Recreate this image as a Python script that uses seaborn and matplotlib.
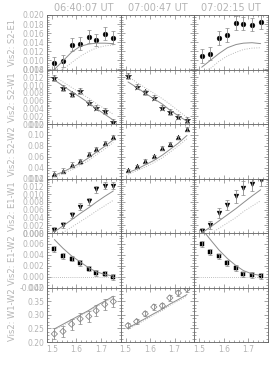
import numpy as np
import matplotlib
matplotlib.use("Agg")
import matplotlib.pyplot as plt
import seaborn as sns
from matplotlib.ticker import MultipleLocator, AutoMinorLocator, FormatStrFormatter

# spectral channels (micron)
wavelength = [1.51, 1.545, 1.58, 1.615, 1.65, 1.68, 1.715, 1.75]
times = ["06:40:07 UT", "07:00:47 UT", "07:02:15 UT"]
baselines = ["S2-E1", "S2-W1", "S2-W2", "E1-W1", "E1-W2", "W1-W2"]

# S2-E1
s2e1_vis_a = [0.0094, 0.0099, 0.0135, 0.0137, 0.0152, 0.0145, 0.0159, 0.0150]
s2e1_err_a = [0.0014] * 8
s2e1_mod_a = [0.0080, 0.0099, 0.0118, 0.0131, 0.0136, 0.0138, 0.0138, 0.0137]
s2e1_alt_a = [0.0072, 0.0080, 0.0095, 0.0109, 0.0120, 0.0127, 0.0132, 0.0134]
s2e1_vis_c = [0.0110, 0.0115, 0.0150, 0.0156, 0.0183, 0.0181, 0.0179, 0.0185]
s2e1_err_c = [0.0015] * 8
s2e1_mod_c = [0.0085, 0.0100, 0.0115, 0.0128, 0.0135, 0.0138, 0.0139, 0.0137]
s2e1_alt_c = [0.0075, 0.0082, 0.0098, 0.0110, 0.0118, 0.0124, 0.0127, 0.0128]

# S2-W1
s2w1_vis_a = [0.0118, 0.0093, 0.0076, 0.0085, 0.0055, 0.0042, 0.0033, 0.0006]
s2w1_err_a = [0.0007] * 8
s2w1_mod_a = [0.0113, 0.0098, 0.0083, 0.0069, 0.0054, 0.0040, 0.0025, 0.0010]
s2w1_alt_a = [0.0122, 0.0108, 0.0094, 0.0080, 0.0066, 0.0053, 0.0039, 0.0025]
s2w1_vis_b = [0.0123, 0.0096, 0.0081, 0.0068, 0.0042, 0.0031, 0.0019, 0.0010]
s2w1_err_b = [0.0007] * 8
s2w1_mod_b = [0.0108, 0.0094, 0.0079, 0.0065, 0.0051, 0.0036, 0.0021, 0.0007]
s2w1_alt_b = [0.0122, 0.0107, 0.0093, 0.0079, 0.0065, 0.0051, 0.0034, 0.0017]

# S2-W2
s2w2_vis_a = [0.029, 0.0345, 0.0455, 0.0515, 0.065, 0.074, 0.0855, 0.0964]
s2w2_err_a = [0.004] * 8
s2w2_mod_a = [0.026, 0.032, 0.040, 0.048, 0.058, 0.068, 0.079, 0.091]
s2w2_alt_a = [0.023, 0.029, 0.036, 0.044, 0.053, 0.063, 0.074, 0.086]
s2w2_vis_b = [0.035, 0.0424, 0.052, 0.0605, 0.0758, 0.0836, 0.0958, 0.111]
s2w2_err_b = [0.003] * 8
s2w2_mod_b = [0.031, 0.037, 0.045, 0.053, 0.063, 0.073, 0.085, 0.099]
s2w2_alt_b = [0.028, 0.034, 0.041, 0.049, 0.058, 0.068, 0.080, 0.093]

# E1-W1
e1w1_vis_a = [0.0008, 0.0020, 0.0046, 0.0068, 0.0081, 0.0112, 0.0122, 0.0122]
e1w1_err_a = [0.0008] * 8
e1w1_mod_a = [0.0003, 0.0018, 0.0034, 0.0050, 0.0065, 0.0079, 0.0094, 0.0108]
e1w1_alt_a = [-0.0012, 0.0001, 0.0015, 0.0029, 0.0043, 0.0056, 0.0070, 0.0084]
e1w1_vis_c = [0.0005, 0.0021, 0.0051, 0.0072, 0.0094, 0.0116, 0.0127, 0.0137]
e1w1_err_c = [0.0008, 0.0010, 0.0012, 0.0014, 0.0016, 0.0018, 0.0018, 0.0016]
e1w1_mod_c = [0.0000, 0.0015, 0.0031, 0.0047, 0.0063, 0.0078, 0.0095, 0.0111]
e1w1_alt_c = [-0.0015, -0.0002, 0.0012, 0.0026, 0.0040, 0.0055, 0.0069, 0.0083]

# E1-W2
e1w2_vis_a = [0.0051, 0.0038, 0.0033, 0.0025, 0.00145, 0.0007, 0.00055, -0.00005]
e1w2_err_a = [0.0005] * 8
e1w2_mod_a = [0.0068, 0.0052, 0.0038, 0.0027, 0.0016, 0.0009, 0.0004, 0.0001]
e1w2_vis_c = [0.0060, 0.0045, 0.0037, 0.0025, 0.0016, 0.0004, 0.0003, 0.0001]
e1w2_err_c = [0.0005] * 8
e1w2_mod_c = [0.0088, 0.0068, 0.0049, 0.0033, 0.0020, 0.0011, 0.0005, 0.0002]

# W1-W2
w1w2_vis_a = [0.2296, 0.239, 0.2656, 0.285, 0.294, 0.315, 0.338, 0.3485]
w1w2_err_a = [0.02] * 8
w1w2_mod_a = [0.248, 0.265, 0.282, 0.299, 0.316, 0.333, 0.350, 0.368]
w1w2_alt_a = [0.244, 0.261, 0.278, 0.295, 0.312, 0.329, 0.346, 0.364]
w1w2_vis_b = [0.2604, 0.275, 0.3037, 0.3285, 0.333, 0.3618, 0.380, 0.395]
w1w2_err_b = [0.01] * 8
w1w2_mod_b = [0.251, 0.269, 0.286, 0.304, 0.321, 0.339, 0.356, 0.374]
w1w2_alt_b = [0.246, 0.264, 0.281, 0.299, 0.316, 0.334, 0.351, 0.369]

ylims = [(0.008, 0.020), (0.0, 0.014), (0.02, 0.12), (0.0, 0.014), (-0.002, 0.008), (0.20, 0.40)]
ysteps = [0.002, 0.002, 0.02, 0.002, 0.002, 0.05]
yfmts = ["%.3f", "%.3f", "%.2f", "%.3f", "%.3f", "%.2f"]
markers = ["o", "*", "^", "v", "s", "D"]

# (row, col) -> (vis, err, solid model, dotted model)
panels = {
    (0, 0): (s2e1_vis_a, s2e1_err_a, s2e1_mod_a, s2e1_alt_a),
    (0, 2): (s2e1_vis_c, s2e1_err_c, s2e1_mod_c, s2e1_alt_c),
    (1, 0): (s2w1_vis_a, s2w1_err_a, s2w1_mod_a, s2w1_alt_a),
    (1, 1): (s2w1_vis_b, s2w1_err_b, s2w1_mod_b, s2w1_alt_b),
    (2, 0): (s2w2_vis_a, s2w2_err_a, s2w2_mod_a, s2w2_alt_a),
    (2, 1): (s2w2_vis_b, s2w2_err_b, s2w2_mod_b, s2w2_alt_b),
    (3, 0): (e1w1_vis_a, e1w1_err_a, e1w1_mod_a, e1w1_alt_a),
    (3, 2): (e1w1_vis_c, e1w1_err_c, e1w1_mod_c, e1w1_alt_c),
    (4, 0): (e1w2_vis_a, e1w2_err_a, e1w2_mod_a, None),
    (4, 2): (e1w2_vis_c, e1w2_err_c, e1w2_mod_c, None),
    (5, 0): (w1w2_vis_a, w1w2_err_a, w1w2_mod_a, w1w2_alt_a),
    (5, 1): (w1w2_vis_b, w1w2_err_b, w1w2_mod_b, w1w2_alt_b),
}

sns.set_theme(style="ticks")
plt.rcParams['font.family'] = ['DejaVu Sans']
txt = "#b4b4b4"
frame = "#606060"

fig, axs = plt.subplots(6, 3, figsize=(2.69, 3.66), dpi=100, sharex=True)
fig.subplots_adjust(left=47 / 269, right=268 / 269, top=1 - 15 / 366, bottom=1 - 342 / 366,
                    hspace=0, wspace=0)

for r in range(6):
    for c in range(3):
        ax = axs[r, c]
        ax.set_facecolor("white")
        ax.set_xlim(1.48, 1.78)
        ax.set_ylim(*ylims[r])
        ax.xaxis.set_major_locator(MultipleLocator(0.1))
        ax.xaxis.set_minor_locator(MultipleLocator(0.02))
        ax.yaxis.set_major_locator(MultipleLocator(ysteps[r]))
        ax.yaxis.set_minor_locator(AutoMinorLocator(4))
        ax.yaxis.set_major_formatter(FormatStrFormatter(yfmts[r]))
        ax.xaxis.set_major_formatter(FormatStrFormatter("%.1f"))
        ax.tick_params(which="both", direction="in", top=True, right=True,
                       colors=frame, labelcolor=txt, labelsize=5.5, width=0.4, pad=2)
        ax.tick_params(which="major", length=3)
        ax.tick_params(which="minor", length=1.5)
        for s in ax.spines.values():
            s.set_color(frame)
            s.set_linewidth(0.6)
        if c > 0:
            ax.tick_params(labelleft=False)
        else:
            ax.set_ylabel("Vis2: " + baselines[r], color=txt, fontsize=6, labelpad=2)
        if r == 0:
            ax.set_title(times[c], color=txt, fontsize=7, pad=3)

        if (r, c) not in panels:
            continue
        vis, err, mod, alt = panels[(r, c)]
        if r == 4:
            ax.axhline(0, color="#aaaaaa", lw=0.6, ls=(0, (1, 1.5)))
        sns.lineplot(x=wavelength, y=mod, ax=ax, color="#8c8c8c", lw=0.7)
        if alt is not None:
            sns.lineplot(x=wavelength, y=alt, ax=ax, color="#b8b8b8", lw=0.7, ls=(0, (1, 1.5)))
        ax.errorbar(wavelength, vis, yerr=err, fmt="none", ecolor="#8a8a8a",
                    elinewidth=0.6, capsize=1.2, capthick=0.5)
        if markers[r] == "D":
            sns.scatterplot(x=wavelength, y=vis, ax=ax, marker="D", s=10,
                            facecolor="none", edgecolor="#8a8a8a", linewidth=0.6)
        else:
            size = 22 if markers[r] == "*" else 12
            sns.scatterplot(x=wavelength, y=vis, ax=ax, marker=markers[r], s=size,
                            color="black", edgecolor="black", linewidth=0.3)

fig.align_ylabels(axs[:, 0])
fig.savefig("out.png", dpi=100)
